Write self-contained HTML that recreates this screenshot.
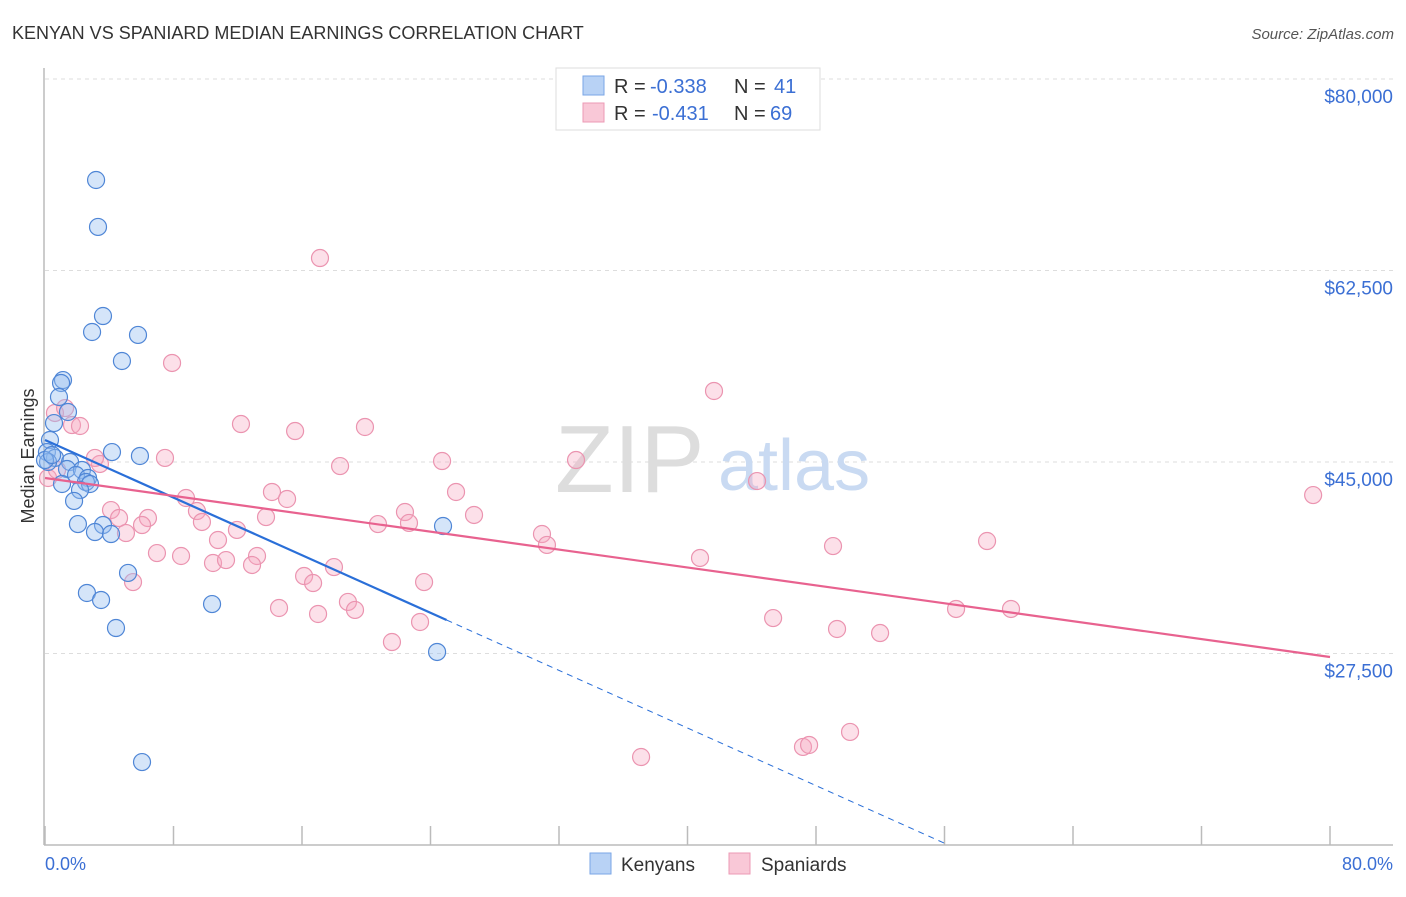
<!DOCTYPE html>
<html><head><meta charset="utf-8"><style>
body{margin:0;background:#fff;font-family:"Liberation Sans",sans-serif;}
svg text{font-family:"Liberation Sans",sans-serif;}
</style></head><body>
<svg id="chart" width="1406" height="892" xmlns="http://www.w3.org/2000/svg">
<text x="12" y="39" font-size="18" fill="#333">KENYAN VS SPANIARD MEDIAN EARNINGS CORRELATION CHART</text>
<text x="1394" y="39" font-size="15" fill="#555" font-style="italic" text-anchor="end">Source: ZipAtlas.com</text>
<g id="grid"></g>
<g>
<text x="555" y="492" font-size="96" fill="#ddd" font-family="Liberation Serif">ZIP</text>
<text x="718" y="490" font-size="72" fill="#c9daf2">atlas</text>
</g>
<g id="axes"></g>
<g id="pts"></g>
<g id="trends"></g>
<text x="34" y="456" font-size="18" fill="#333" text-anchor="middle" transform="rotate(-90 34 456)">Median Earnings</text>
<text x="45" y="870" font-size="18" fill="#3b6fd4">0.0%</text>
<text x="1393" y="870" font-size="18" fill="#3b6fd4" text-anchor="end">80.0%</text>
<g>
<rect x="556" y="68" width="264" height="62" fill="#fff" stroke="#ddd"/>
<rect x="583" y="76" width="21" height="19" fill="#b8d2f5" stroke="#7aa6e6"/>
<rect x="583" y="103" width="21" height="19" fill="#f9c8d7" stroke="#ec9ab4"/>
<text y="93" font-size="20"><tspan x="614" fill="#333">R = </tspan><tspan x="650" fill="#3b6fd4">-0.338</tspan><tspan x="734" fill="#333">N = </tspan><tspan x="774" fill="#3b6fd4">41</tspan></text>
<text y="120" font-size="20"><tspan x="614" fill="#333">R = </tspan><tspan x="652" fill="#3b6fd4">-0.431</tspan><tspan x="734" fill="#333">N = </tspan><tspan x="770" fill="#3b6fd4">69</tspan></text>
</g>
<g>
<rect x="590" y="853" width="21" height="21" fill="#b8d2f5" stroke="#7aa6e6"/>
<text x="621" y="871" font-size="19" fill="#333">Kenyans</text>
<rect x="729" y="853" width="21" height="21" fill="#f9c8d7" stroke="#ec9ab4"/>
<text x="761" y="871" font-size="19" fill="#333">Spaniards</text>
</g>
</svg>
<script>
const yTicks=[80000,62500,45000,27500];
const yTickLabels=["$80,000","$62,500","$45,000","$27,500"];
const xTicks=[0,8,16,24,32,40,48,56,64,72,80];
const kenX=[3.18,3.30,3.61,2.93,5.79,4.79,1.12,1.00,0.87,1.43,0.56,0.31,0.12,4.17,5.91,0.62,0.19,1.56,1.37,2.30,1.93,2.68,2.55,1.06,2.80,2.18,1.81,2.05,3.61,3.11,4.11,5.17,2.61,3.49,10.40,4.42,24.78,24.41,6.04,0.0,0.44];
const kenY=[70.77,66.48,58.34,56.88,56.61,54.23,52.49,52.22,50.94,49.57,48.56,47.01,45.91,45.91,45.55,45.37,45.00,45.00,44.36,44.27,43.81,43.54,43.17,42.99,42.99,42.44,41.44,39.33,39.24,38.60,38.42,34.86,33.03,32.39,32.02,29.83,39.15,27.64,17.58,45.18,45.64];
const spaX=[7.91,17.12,41.65,0.62,1.25,1.68,2.18,12.20,15.57,19.92,7.47,24.72,33.06,18.37,3.42,3.11,44.33,78.95,14.13,15.07,8.78,25.59,9.46,4.11,4.61,6.41,6.04,9.77,13.76,11.95,5.04,20.73,22.41,22.66,26.71,30.94,31.25,10.77,6.97,8.47,13.20,10.46,11.27,12.89,40.78,49.06,58.65,5.48,16.13,16.69,17.99,18.86,19.30,14.57,17.00,23.60,23.35,21.60,45.33,49.31,51.99,56.72,60.14,37.11,47.19,47.57,50.12,0.19,0.75];
const spaY=[54.05,63.64,51.49,49.48,49.93,48.38,48.29,48.47,47.83,48.20,45.37,45.09,45.18,44.63,44.82,45.37,43.26,41.98,42.26,41.62,41.71,42.26,40.52,40.61,39.88,39.88,39.24,39.52,39.97,38.79,38.51,39.33,40.43,39.43,40.16,38.42,37.42,37.87,36.68,36.41,36.41,35.77,36.04,35.59,36.23,37.32,37.78,34.03,34.58,33.94,35.40,32.21,31.48,31.66,31.11,34.03,30.38,28.55,30.74,29.74,29.37,31.57,31.57,18.04,18.96,19.14,20.33,43.54,44.27];
const kenTrend=[47.01,-0.658,25.0];
const spaTrend=[43.54,-0.2045,80];
const NS="http://www.w3.org/2000/svg";
function sx(v){return 45+v/80*1285;}
function sy(k){return 79+(80-k)/17.5*191.5;}
function mk(tag,attrs,parent){const e=document.createElementNS(NS,tag);for(const k in attrs)e.setAttribute(k,attrs[k]);parent.appendChild(e);return e;}
const grid=document.getElementById('grid'),axes=document.getElementById('axes'),pts=document.getElementById('pts'),tr=document.getElementById('trends');
yTicks.forEach((t,i)=>{const y=sy(t/1000);
const l=mk('line',{x1:45,x2:1393,y1:y,y2:y,stroke:'#ddd','stroke-dasharray':'4,4'},grid);


const tx=mk('text',{x:1393,y:y+24,'font-size':19,fill:'#3b6fd4','text-anchor':'end'},grid);
tx.textContent=yTickLabels[i];

});
const xa=mk('line',{x1:44,x2:1393,y1:845,y2:845,stroke:'#bbb','stroke-width':1.5},axes);


const ya=mk('line',{x1:44,x2:44,y1:68,y2:845,stroke:'#bbb','stroke-width':1.5},axes);


xTicks.forEach(t=>{const x=sx(t);const l=mk('line',{x1:x,x2:x,y1:826,y2:845,stroke:'#bbb','stroke-width':1.5},axes);

});
function dots(X,Y,fill,stroke,name){X.forEach((x,i)=>{const c=mk('circle',{cx:sx(x),cy:sy(Y[i]),r:8.5,fill:fill,stroke:stroke,'stroke-width':1.2},pts);

});}
dots(spaX,spaY,'rgba(245,165,192,0.35)','#eb94b0','spaniard-point');
dots(kenX,kenY,'rgba(150,190,240,0.4)','#4f86d6','kenyan-point');
const ks=mk('line',{x1:sx(0),y1:sy(kenTrend[0]),x2:sx(kenTrend[2]),y2:sy(kenTrend[0]+kenTrend[1]*kenTrend[2]),stroke:'#2a6fd8','stroke-width':2.2},tr);


const xe=(10-kenTrend[0])/kenTrend[1];
const kd=mk('line',{x1:sx(kenTrend[2]),y1:sy(kenTrend[0]+kenTrend[1]*kenTrend[2]),x2:sx(xe),y2:sy(10),stroke:'#2a6fd8','stroke-width':1,'stroke-dasharray':'6,5'},tr);


const ps=mk('line',{x1:sx(0),y1:sy(spaTrend[0]),x2:sx(spaTrend[2]),y2:sy(spaTrend[0]+spaTrend[1]*spaTrend[2]),stroke:'#e8628f','stroke-width':2.2},tr);


</script>
</body></html>
